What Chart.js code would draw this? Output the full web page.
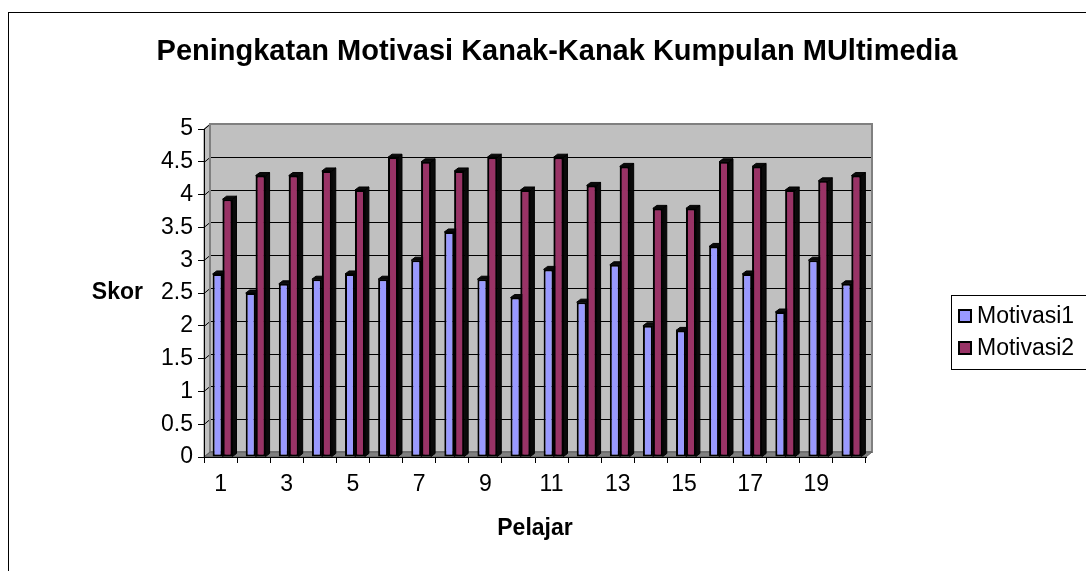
<!DOCTYPE html>
<html><head><meta charset="utf-8">
<script src="https://cdn.jsdelivr.net/npm/chart.js@4.4.0/dist/chart.umd.min.js"></script>
<style>
html,body{margin:0;padding:0;background:#fff;overflow:hidden;}
#wrap{position:relative;width:1086px;height:571px;}
#frame{position:absolute;left:8px;top:12px;width:1200px;height:700px;border:1px solid #000;box-sizing:border-box;pointer-events:none;}
canvas{position:absolute;left:0;top:0;}
</style></head><body>
<div id="wrap"><canvas id="c" width="1086" height="571"></canvas><div id="frame"></div></div>
<script>
const categories = ['1','2','3','4','5','6','7','8','9','10','11','12','13','14','15','16','17','18','19','20'];
const motivasi1 = [2.79, 2.50, 2.64, 2.71, 2.79, 2.71, 3.00, 3.43, 2.71, 2.43, 2.86, 2.36, 2.93, 2.00, 1.93, 3.21, 2.79, 2.21, 3.00, 2.64];
const motivasi2 = [3.93, 4.29, 4.29, 4.36, 4.07, 4.57, 4.50, 4.36, 4.57, 4.07, 4.57, 4.14, 4.43, 3.79, 3.79, 4.50, 4.43, 4.07, 4.21, 4.29];
const seriesNames = ['Motivasi1', 'Motivasi2'];
const seriesColors = ['#9999FF', '#993366'];
const yMin = 0, yMax = 5, yStep = 0.5;
const titleText = 'Peningkatan Motivasi Kanak-Kanak Kumpulan MUltimedia';
const xTitleText = 'Pelajar';
const yTitleText = 'Skor';

const FONT = '"Liberation Sans", Arial, sans-serif';
Chart.defaults.font.family = FONT;
Chart.defaults.color = '#000';

const WALL_DX = 6, WALL_DY = -5;   // depth of the back wall
const BAR_DX = 4, BAR_DY = -3;     // depth of each column

const wallPlugin = {
  id: 'wall',
  beforeDraw(chart) {
    const {ctx, chartArea: a, scales: {y}} = chart;
    const L = a.left, R = a.right, T = a.top, B = a.bottom;
    ctx.save();
    ctx.fillStyle = '#C0C0C0';
    ctx.fillRect(L + WALL_DX, T + WALL_DY, R - L, B - T);
    ctx.beginPath();
    ctx.moveTo(L, T); ctx.lineTo(L + WALL_DX, T + WALL_DY);
    ctx.lineTo(L + WALL_DX, B + WALL_DY); ctx.lineTo(L, B); ctx.closePath();
    ctx.fillStyle = '#C0C0C0'; ctx.fill();
    ctx.strokeStyle = '#808080'; ctx.lineWidth = 1; ctx.stroke();
    ctx.strokeStyle = '#000'; ctx.lineWidth = 1;
    y.ticks.forEach(t => {
      const yp = Math.round(y.getPixelForValue(t.value)) + 0.5;
      ctx.beginPath();
      ctx.moveTo(L, yp);
      ctx.lineTo(L + WALL_DX, yp + WALL_DY);
      ctx.lineTo(R + WALL_DX, yp + WALL_DY);
      ctx.stroke();
    });
    ctx.strokeStyle = '#808080'; ctx.lineWidth = 2;
    ctx.strokeRect(L + WALL_DX, T + WALL_DY, R - L, B - T);
    ctx.beginPath();
    ctx.moveTo(L, B); ctx.lineTo(L + WALL_DX, B + WALL_DY);
    ctx.lineTo(R + WALL_DX, B + WALL_DY); ctx.lineTo(R, B); ctx.closePath();
    ctx.fillStyle = '#808080'; ctx.fill();
    ctx.strokeStyle = '#606060'; ctx.lineWidth = 1; ctx.stroke();
    ctx.restore();
  }
};

function drawDepth(ctx, el) {
  const {x, y, base, width} = el.getProps(['x', 'y', 'base', 'width'], true);
  const l = x - width / 2, r = x + width / 2;
  ctx.fillStyle = '#0a0a0a';
  ctx.strokeStyle = '#000';
  ctx.lineWidth = 1;
  ctx.beginPath();
  ctx.moveTo(r, y); ctx.lineTo(r + BAR_DX, y + BAR_DY);
  ctx.lineTo(r + BAR_DX, base + BAR_DY); ctx.lineTo(r, base); ctx.closePath();
  ctx.fill(); ctx.stroke();
  ctx.beginPath();
  ctx.moveTo(l, y); ctx.lineTo(l + BAR_DX, y + BAR_DY);
  ctx.lineTo(r + BAR_DX, y + BAR_DY); ctx.lineTo(r, y); ctx.closePath();
  ctx.fill(); ctx.stroke();
}

const barsPlugin = {
  id: 'bars3d',
  beforeDatasetsDraw(chart) { chart.ctx.save(); chart.ctx.translate(2, 0); },
  afterDatasetsDraw(chart) {
    const ctx = chart.ctx;
    const metas = chart.data.datasets.map((d, i) => chart.getDatasetMeta(i));
    for (let i = 0; i < categories.length; i++) {
      metas.forEach((m, k) => {
        const el = m.data[i];
        if (k > 0) el.draw(ctx);
        drawDepth(ctx, el);
      });
    }
    ctx.restore();
  }
};

const annotPlugin = {
  id: 'annot',
  afterDraw(chart) {
    const {ctx, scales: {y}} = chart;
    ctx.save();
    ctx.fillStyle = '#000';
    // chart title
    ctx.font = 'bold 29px ' + FONT;
    ctx.textAlign = 'center'; ctx.textBaseline = 'middle';
    ctx.fillText(titleText, 557, 52);
    // horizontal y-axis title
    ctx.font = 'bold 23px ' + FONT;
    ctx.textAlign = 'right'; ctx.textBaseline = 'middle';
    ctx.fillText(yTitleText, 143, y.getPixelForValue(2.5));
    // legend
    const lx = 951, ly = 295, lh = 74;
    ctx.strokeStyle = '#000'; ctx.lineWidth = 1;
    ctx.strokeRect(lx + 0.5, ly + 0.5, 200, lh);
    ctx.font = '23px ' + FONT;
    ctx.textAlign = 'left';
    seriesNames.forEach((name, i) => {
      const cy = ly + 21 + i * 32;
      ctx.fillStyle = seriesColors[i];
      ctx.fillRect(959, cy - 6, 12, 12);
      ctx.lineWidth = 2; ctx.strokeStyle = '#000';
      ctx.strokeRect(959, cy - 6, 12, 12);
      ctx.fillStyle = '#000';
      ctx.fillText(name, 977, cy + 1);
    });
    ctx.restore();
  }
};

new Chart(document.getElementById('c'), {
  type: 'bar',
  data: {
    labels: categories,
    datasets: [
      { label: seriesNames[0], data: motivasi1, backgroundColor: seriesColors[0], borderColor: '#000', borderWidth: 2, borderSkipped: false },
      { label: seriesNames[1], data: motivasi2, backgroundColor: seriesColors[1], borderColor: '#000', borderWidth: 2, borderSkipped: false }
    ]
  },
  options: {
    responsive: false,
    animation: false,
    devicePixelRatio: 1,
    layout: { padding: { left: 0, right: 220, top: 129, bottom: 0 } },
    datasets: { bar: { categoryPercentage: 0.6, barPercentage: 1.0 } },
    plugins: {
      legend: { display: false },
      tooltip: { enabled: false },
      title: { display: false }
    },
    scales: {
      x: {
        grid: { offset: true, drawOnChartArea: false, drawTicks: true, tickLength: 6, color: '#000' },
        border: { display: true, color: '#000', width: 1 },
        ticks: {
          autoSkip: false, maxRotation: 0, padding: 8, color: '#000',
          font: { size: 23, family: FONT },
          callback: (v, i) => (i % 2 === 0 ? categories[i] : '')
        },
        title: { display: true, text: xTitleText, color: '#000', font: { size: 23, weight: 'bold', family: FONT }, padding: { top: 0, bottom: 29 } },
        afterFit: s => { s.height = 114; }
      },
      y: {
        min: yMin, max: yMax,
        grid: { drawOnChartArea: false, drawTicks: true, tickLength: 6, color: '#000' },
        border: { display: true, color: '#000', width: 1 },
        ticks: { stepSize: yStep, padding: 5, color: '#000', font: { size: 23, family: FONT }, callback: v => String(v) },
        afterFit: s => { s.width = 204; }
      }
    }
  },
  plugins: [wallPlugin, barsPlugin, annotPlugin]
});
</script>
</body></html>
